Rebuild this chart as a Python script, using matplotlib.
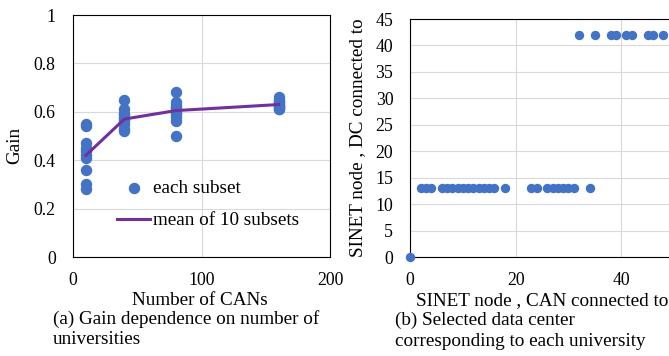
import matplotlib
matplotlib.use("Agg")
import matplotlib.pyplot as plt

# (a) gain of each subset, 10 subsets per size
can_counts = [10, 40, 80, 160]
gain_10 = [0.55, 0.54, 0.47, 0.45, 0.44, 0.42, 0.41, 0.36, 0.30, 0.28]
gain_40 = [0.65, 0.61, 0.59, 0.59, 0.58, 0.57, 0.56, 0.55, 0.53, 0.52]
gain_80 = [0.68, 0.64, 0.63, 0.62, 0.61, 0.60, 0.59, 0.58, 0.56, 0.50]
gain_160 = [0.66, 0.65, 0.64, 0.64, 0.63, 0.63, 0.62, 0.62, 0.61, 0.61]
gain_mean = [0.42, 0.57, 0.605, 0.63]

# (b) SINET node of each CAN -> SINET node of the selected DC
can_node = [0, 2, 3, 4, 6, 7, 8, 9, 10, 11, 12, 13, 14, 15, 16, 18,
            23, 24, 26, 27, 28, 29, 30, 31, 34,
            32, 35, 38, 39, 41, 42, 45, 46, 48]
dc_node = [0] + [13] * 24 + [42] * 9

BLUE = "#4472C4"
PURPLE = "#7030A0"
GRID = "#d9d9d9"

plt.rcParams.update({
    "font.family": ["Liberation Serif", "DejaVu Serif"],
    "font.size": 13.8,
    "axes.edgecolor": "black",
    "axes.linewidth": 0.8,
})

fig = plt.figure(figsize=(6.69, 3.56), dpi=100)
W, H = 669.0, 356.0

def px_axes(l, t, r, b):
    return fig.add_axes([l / W, 1 - b / H, (r - l) / W, (b - t) / H])

# ── panel (a) ────────────────────────────────────────────────
ax1 = px_axes(73, 15, 330, 257)
for x, g in zip(can_counts, [gain_10, gain_40, gain_80, gain_160]):
    ax1.scatter([x] * len(g), g, s=52, color=BLUE, zorder=3,
                label="each subset" if x == can_counts[0] else None)
ax1.plot(can_counts, gain_mean, color=PURPLE, lw=2.2, zorder=4,
         label="mean of 10 subsets")
ax1.set_xlim(0, 200)
ax1.set_ylim(0, 1)
ax1.set_xticks([0, 100, 200])
ax1.set_yticks([0, 0.2, 0.4, 0.6, 0.8, 1.0])
ax1.set_yticklabels(["0", "0.2", "0.4", "0.6", "0.8", "1"])
ax1.grid(True, color=GRID, lw=0.8, zorder=0)
ax1.set_axisbelow(True)
ax1.tick_params(length=0, labelsize=12.8)
ax1.tick_params(axis="y", pad=12.5)
ax1.tick_params(axis="x", pad=11)
ax1.legend(loc="upper left", bbox_to_anchor=(0.171, 0.318), frameon=False,
           borderpad=0, borderaxespad=0, handlelength=1.75,
           handletextpad=0.12, labelspacing=0.76)

# ── panel (b) ────────────────────────────────────────────────
ax2 = px_axes(410, 19, 674, 257)
ax2.scatter(can_node, dc_node, s=33, color=BLUE, zorder=3, clip_on=False)
ax2.set_xlim(0, 50)
ax2.set_ylim(0, 45)
ax2.set_xticks([0, 20, 40])
ax2.set_yticks(range(0, 46, 5))
ax2.grid(True, color=GRID, lw=0.8, zorder=0)
ax2.set_axisbelow(True)
ax2.tick_params(length=0, labelsize=12.8)
ax2.tick_params(axis="y", pad=12)
ax2.tick_params(axis="x", pad=11)

# axis titles and captions
fig.text(14.5 / W, 1 - 145 / H, "Gain", rotation=90, ha="center", va="center")
fig.text(358 / W, 1 - 138 / H, "SINET node , DC connected to", rotation=90,
         ha="center", va="center")
fig.text(200 / W, 1 - 305 / H, "Number of CANs", ha="center", va="baseline")
fig.text(416 / W, 1 - 305 / H, "SINET node , CAN connected to",
         ha="left", va="baseline")
fig.text(53 / W, 1 - 319 / H, "(a) Gain dependence on number of",
         ha="left", va="center")
fig.text(53 / W, 1 - 340 / H, "universities", ha="left", va="center")
fig.text(395 / W, 1 - 320 / H, "(b) Selected data center",
         ha="left", va="center")
fig.text(395 / W, 1 - 341 / H, "corresponding to each university",
         ha="left", va="center")

fig.savefig("out.png", dpi=100)
